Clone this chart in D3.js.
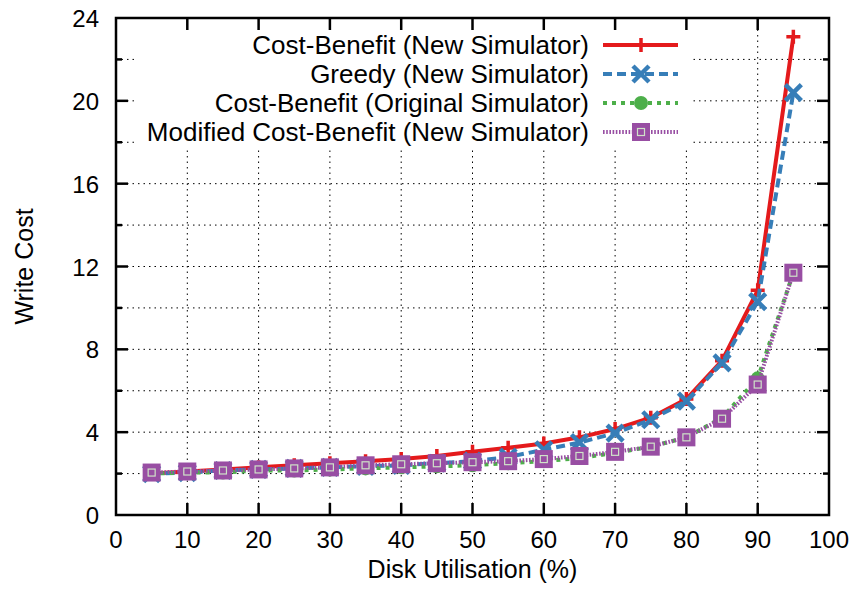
<!DOCTYPE html>
<html lang="en">
<head>
<meta charset="utf-8">
<title>Write cost vs disk utilisation</title>
<script src="https://d3js.org/d3.v7.min.js"></script>
<style>
  body { margin: 0; background: #fff; }
  text { font-family: "Liberation Sans", Arial, sans-serif; fill: #000; }
</style>
</head>
<body>
<svg id="chart" width="859" height="595"></svg>
<script>
// utilisation points (%)
var utilisation = [5, 10, 15, 20, 25, 30, 35, 40, 45, 50, 55, 60, 65, 70, 75, 80, 85, 90, 95];

var costBenefitNew  = [2.0, 2.1, 2.2, 2.3, 2.4, 2.5, 2.6, 2.7, 2.85, 3.05, 3.25, 3.45, 3.75, 4.15, 4.7, 5.6, 7.45, 10.85, 23.1];
var greedyNew       = [2.0, 2.05, 2.15, 2.2, 2.25, 2.3, 2.35, 2.4, 2.5, 2.6, 2.8, 3.15, 3.5, 3.95, 4.6, 5.5, 7.35, 10.3, 20.4];
var costBenefitOrig = [2.0, 2.05, 2.05, 2.15, 2.15, 2.2, 2.25, 2.3, 2.35, 2.4, 2.5, 2.6, 2.75, 3.0, 3.3, 3.75, 4.7, 6.6, 11.7];
var modifiedCBNew   = [2.05, 2.1, 2.15, 2.2, 2.25, 2.3, 2.4, 2.45, 2.5, 2.55, 2.6, 2.7, 2.85, 3.05, 3.3, 3.75, 4.65, 6.3, 11.7];

var seriesNames = ["Cost-Benefit (New Simulator)", "Greedy (New Simulator)",
                   "Cost-Benefit (Original Simulator)", "Modified Cost-Benefit (New Simulator)"];

var xTicks = [0, 10, 20, 30, 40, 50, 60, 70, 80, 90, 100];
var yTicks = [0, 4, 8, 12, 16, 20, 24];
var yMinor = [2, 6, 10, 14, 18, 22];

var series = [
  {name: seriesNames[0], values: costBenefitNew,  color: "#e41a1c", dash: null,    marker: "plus"},
  {name: seriesNames[1], values: greedyNew,       color: "#377eb8", dash: "9,5",   marker: "cross"},
  {name: seriesNames[2], values: costBenefitOrig, color: "#4daf4a", dash: "4,5",   marker: "circle"},
  {name: seriesNames[3], values: modifiedCBNew,   color: "#984ea3", dash: "1.6,1.6", marker: "square"}
];

var plotL = 116, plotR = 829, plotT = 18, plotB = 515;

var svg = d3.select("#chart");

var x = d3.scaleLinear().domain([0, 100]).range([plotL, plotR]);
var y = d3.scaleLinear().domain([0, 24]).range([plotB, plotT]);

// grid
var grid = svg.append("g").attr("stroke", "#000").attr("stroke-width", 1)
  .attr("stroke-dasharray", "1.5,4");
grid.selectAll(".gx").data(xTicks.slice(1, -1)).enter().append("line")
  .attr("x1", function(d) { return x(d); }).attr("x2", function(d) { return x(d); })
  .attr("y1", plotB).attr("y2", plotT);
grid.selectAll(".gy").data(yTicks.slice(1, -1).concat(yMinor)).enter().append("line")
  .attr("x1", plotL).attr("x2", plotR)
  .attr("y1", function(d) { return y(d); }).attr("y2", function(d) { return y(d); });

// legend background hides grid
svg.append("rect").attr("x", 138).attr("y", 28).attr("width", 552).attr("height", 122).attr("fill", "#fff");

// ticks on all four sides, pointing inward
var ticks = svg.append("g").attr("stroke", "#000").attr("stroke-width", 2.5);
xTicks.slice(1, -1).forEach(function(d) {
  ticks.append("line").attr("x1", x(d)).attr("x2", x(d)).attr("y1", plotB).attr("y2", plotB - 12);
  ticks.append("line").attr("x1", x(d)).attr("x2", x(d)).attr("y1", plotT).attr("y2", plotT + 12);
});
yTicks.slice(1, -1).forEach(function(d) {
  ticks.append("line").attr("x1", plotL).attr("x2", plotL + 12).attr("y1", y(d)).attr("y2", y(d));
  ticks.append("line").attr("x1", plotR).attr("x2", plotR - 12).attr("y1", y(d)).attr("y2", y(d));
});
yMinor.forEach(function(d) {
  ticks.append("line").attr("x1", plotL).attr("x2", plotL + 6).attr("y1", y(d)).attr("y2", y(d));
  ticks.append("line").attr("x1", plotR).attr("x2", plotR - 6).attr("y1", y(d)).attr("y2", y(d));
});

// tick labels
svg.selectAll(".xl").data(xTicks).enter().append("text")
  .attr("x", function(d) { return x(d); }).attr("y", 548)
  .attr("text-anchor", "middle").attr("font-size", 24)
  .text(function(d) { return d; });
svg.selectAll(".yl").data(yTicks).enter().append("text")
  .attr("x", 99).attr("y", function(d) { return y(d) + 9; })
  .attr("text-anchor", "end").attr("font-size", 24)
  .text(function(d) { return d; });

// axis titles
svg.append("text").attr("x", x(50)).attr("y", 578).attr("text-anchor", "middle")
  .attr("font-size", 25).text("Disk Utilisation (%)");
svg.append("text").attr("transform", "translate(33," + y(12) + ") rotate(-90)")
  .attr("text-anchor", "middle").attr("font-size", 25).text("Write Cost");

function drawMarker(g, type, color, cx, cy) {
  if (type === "plus") {
    g.append("path").attr("d", "M" + (cx - 7) + "," + cy + "H" + (cx + 7) + "M" + cx + "," + (cy - 7) + "V" + (cy + 7))
      .attr("stroke", color).attr("stroke-width", 3.5).attr("fill", "none");
  } else if (type === "cross") {
    g.append("path").attr("d", "M" + (cx - 8) + "," + (cy - 8) + "L" + (cx + 8) + "," + (cy + 8) +
        "M" + (cx - 8) + "," + (cy + 8) + "L" + (cx + 8) + "," + (cy - 8))
      .attr("stroke", color).attr("stroke-width", 4.5).attr("fill", "none");
  } else if (type === "circle") {
    g.append("circle").attr("cx", cx).attr("cy", cy).attr("r", 7).attr("fill", color);
  } else {
    g.append("rect").attr("x", cx - 9).attr("y", cy - 9).attr("width", 18).attr("height", 18).attr("fill", color);
    g.append("rect").attr("x", cx - 3.5).attr("y", cy - 3.5).attr("width", 7).attr("height", 7)
      .attr("fill", "none").attr("stroke", "#cfe3c8").attr("stroke-width", 1.2);
  }
}

var line = d3.line()
  .x(function(d, i) { return x(utilisation[i]); })
  .y(function(d) { return y(d); });

series.forEach(function(s) {
  var g = svg.append("g");
  g.append("path").datum(s.values).attr("d", line)
    .attr("fill", "none").attr("stroke", s.color).attr("stroke-width", 4)
    .attr("stroke-dasharray", s.dash);
  s.values.forEach(function(v, i) {
    drawMarker(g, s.marker, s.color, x(utilisation[i]), y(v));
  });
});

// legend
var legend = svg.append("g");
series.forEach(function(s, i) {
  var ly = 45 + i * 29;
  legend.append("text").attr("x", 589).attr("y", ly + 9).attr("text-anchor", "end")
    .attr("font-size", 26).text(s.name);
  legend.append("line").attr("x1", 603).attr("x2", 678).attr("y1", ly).attr("y2", ly)
    .attr("stroke", s.color).attr("stroke-width", 4).attr("stroke-dasharray", s.dash);
  drawMarker(legend, s.marker, s.color, 641, ly);
});

// frame
svg.append("rect").attr("x", plotL).attr("y", plotT).attr("width", plotR - plotL).attr("height", plotB - plotT)
  .attr("fill", "none").attr("stroke", "#000").attr("stroke-width", 2.5);
</script>
</body>
</html>
